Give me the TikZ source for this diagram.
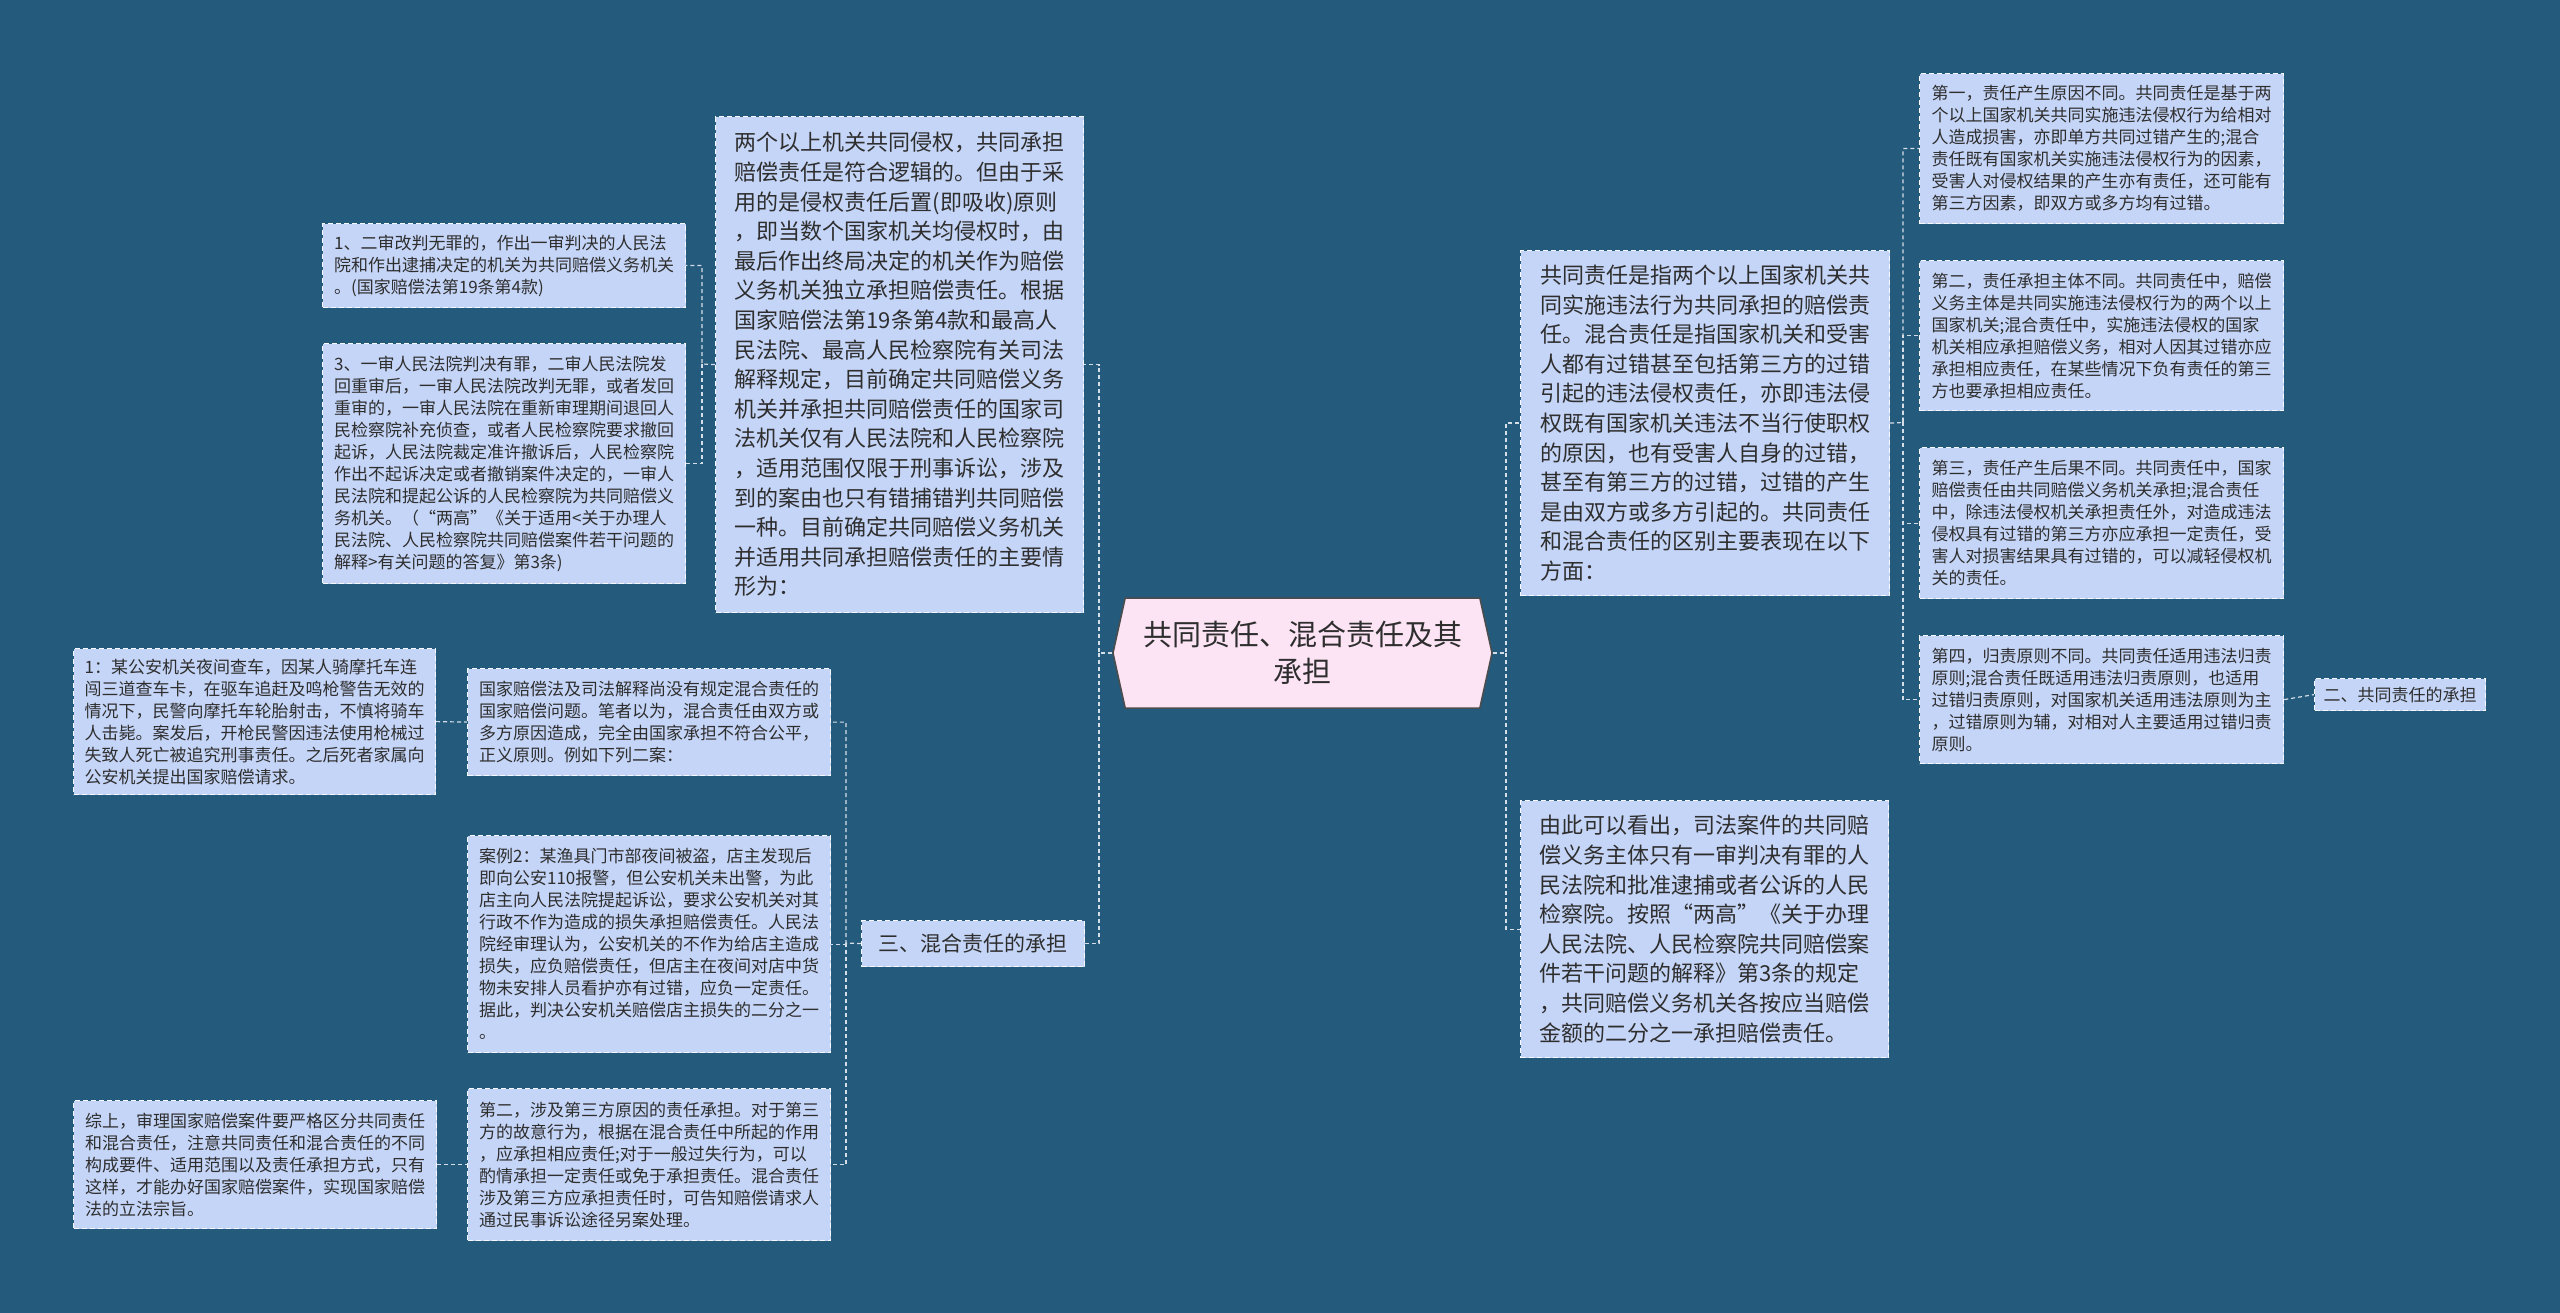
\documentclass[tikz,border=0pt]{standalone}
\usepackage{fontspec}
\setmainfont{Noto Sans CJK SC}
\usetikzlibrary{shapes.symbols}
\definecolor{bgblue}{HTML}{245A7C}
\definecolor{boxfill}{HTML}{C5D5F7}
\definecolor{rootfill}{HTML}{FCE4F5}
\definecolor{inktxt}{HTML}{2E2E2E}
\definecolor{linkgray}{HTML}{D5DDE6}
\newcommand{\smalltxt}{\fontsize{17pt}{22pt}\selectfont}
\newcommand{\bigtxt}{\fontsize{22pt}{29.6pt}\selectfont}
\newcommand{\roottxt}{\fontsize{29pt}{37pt}\selectfont}
\tikzset{
  every picture/.style={line width=1.2pt},
  leaf/.style={draw=white!85!boxfill, dash pattern=on 5pt off 3pt, fill=boxfill,
    text=inktxt, align=left, anchor=north west, inner sep=2pt, font=\smalltxt},
  bigleaf/.style={leaf, font=\bigtxt},
  topic/.style={leaf, align=center},
  rootbox/.style={shape=signal, signal to=west and east, signal pointer angle=155,
    draw=black!70, solid, line width=1.5pt, fill=rootfill, text=inktxt,
    align=center, font=\roottxt, minimum width=379pt, minimum height=110pt},
  link/.style={draw=linkgray, dash pattern=on 4pt off 3pt, line width=1.2pt},
}

\begin{document}
\begin{tikzpicture}[x=1pt,y=-1pt]
    % 背景
    \fill[bgblue] (0,0) rectangle (2560,1313);
    \useasboundingbox (0,0) rectangle (2560,1313);

    % 中心主题
    \node[rootbox] (root) at (1302.5,653) {共同责任、混合责任及其\\承担};

    % 左上：共同赔偿义务机关
    \node[bigleaf, minimum width=368pt, minimum height=496pt] (joint) at (715,116)
      {两个以上机关共同侵权，共同承担\\
       赔偿责任是符合逻辑的。但由于采\\
       用的是侵权责任后置(即吸收)原则\\
       ，即当数个国家机关均侵权时，由\\
       最后作出终局决定的机关作为赔偿\\
       义务机关独立承担赔偿责任。根据\\
       国家赔偿法第19条第4款和最高人\\
       民法院、最高人民检察院有关司法\\
       解释规定，目前确定共同赔偿义务\\
       机关并承担共同赔偿责任的国家司\\
       法机关仅有人民法院和人民检察院\\
       ，适用范围仅限于刑事诉讼，涉及\\
       到的案由也只有错捕错判共同赔偿\\
       一种。目前确定共同赔偿义务机关\\
       并适用共同承担赔偿责任的主要情\\
       形为：};
    \node[leaf, minimum width=363pt, minimum height=84pt] (art1) at (322,223)
      {1、二审改判无罪的，作出一审判决的人民法\\
       院和作出逮捕决定的机关为共同赔偿义务机关\\
       。(国家赔偿法第19条第4款)};
    \node[leaf, minimum width=363pt, minimum height=240pt] (art3) at (322,343)
      {3、一审人民法院判决有罪，二审人民法院发\\
       回重审后，一审人民法院改判无罪，或者发回\\
       重审的，一审人民法院在重新审理期间退回人\\
       民检察院补充侦查，或者人民检察院要求撤回\\
       起诉，人民法院裁定准许撤诉后，人民检察院\\
       作出不起诉决定或者撤销案件决定的，一审人\\
       民法院和提起公诉的人民检察院为共同赔偿义\\
       务机关。（“两高”《关于适用<关于办理人\\
       民法院、人民检察院共同赔偿案件若干问题的\\
       解释>有关问题的答复》第3条)};

    % 左下：混合责任
    \node[topic, font=\fontsize{21pt}{26pt}\selectfont, minimum width=223pt, minimum height=46pt] (mixhead) at (861,920)
      {三、混合责任的承担};
    \node[leaf, minimum width=363pt, minimum height=107pt] (lawgap) at (467,668)
      {国家赔偿法及司法解释尚没有规定混合责任的\\
       国家赔偿问题。笔者以为，混合责任由双方或\\
       多方原因造成，完全由国家承担不符合公平，\\
       正义原则。例如下列二案：};
    \node[leaf, minimum width=362pt, minimum height=146pt] (case1) at (73,648)
      {1：某公安机关夜间查车，因某人骑摩托车连\\
       闯三道查车卡，在驱车追赶及鸣枪警告无效的\\
       情况下，民警向摩托车轮胎射击，不慎将骑车\\
       人击毙。案发后，开枪民警因违法使用枪械过\\
       失致人死亡被追究刑事责任。之后死者家属向\\
       公安机关提出国家赔偿请求。};
    \node[leaf, minimum width=363pt, minimum height=217pt] (case2) at (467,835)
      {案例2：某渔具门市部夜间被盗，店主发现后\\
       即向公安110报警，但公安机关未出警，为此\\
       店主向人民法院提起诉讼，要求公安机关对其\\
       行政不作为造成的损失承担赔偿责任。人民法\\
       院经审理认为，公安机关的不作为给店主造成\\
       损失，应负赔偿责任，但店主在夜间对店中货\\
       物未安排人员看护亦有过错，应负一定责任。\\
       据此，判决公安机关赔偿店主损失的二分之一\\
       。};
    \node[leaf, minimum width=363pt, minimum height=152pt] (third) at (467,1088)
      {第二，涉及第三方原因的责任承担。对于第三\\
       方的故意行为，根据在混合责任中所起的作用\\
       ，应承担相应责任;对于一般过失行为，可以\\
       酌情承担一定责任或免于承担责任。混合责任\\
       涉及第三方应承担责任时，可告知赔偿请求人\\
       通过民事诉讼途径另案处理。};
    \node[leaf, minimum width=363pt, minimum height=128pt] (summary) at (73,1100)
      {综上，审理国家赔偿案件要严格区分共同责任\\
       和混合责任，注意共同责任和混合责任的不同\\
       构成要件、适用范围以及责任承担方式，只有\\
       这样，才能办好国家赔偿案件，实现国家赔偿\\
       法的立法宗旨。};

    % 右侧
    \node[bigleaf, minimum width=369pt, minimum height=345pt] (define) at (1520,250)
      {共同责任是指两个以上国家机关共\\
       同实施违法行为共同承担的赔偿责\\
       任。混合责任是指国家机关和受害\\
       人都有过错甚至包括第三方的过错\\
       引起的违法侵权责任，亦即违法侵\\
       权既有国家机关违法不当行使职权\\
       的原因，也有受害人自身的过错，\\
       甚至有第三方的过错，过错的产生\\
       是由双方或多方引起的。共同责任\\
       和混合责任的区别主要表现在以下\\
       方面：};
    \node[bigleaf, minimum width=368pt, minimum height=257pt] (conclude) at (1520,800)
      {由此可以看出，司法案件的共同赔\\
       偿义务主体只有一审判决有罪的人\\
       民法院和批准逮捕或者公诉的人民\\
       检察院。按照“两高”《关于办理\\
       人民法院、人民检察院共同赔偿案\\
       件若干问题的解释》第3条的规定\\
       ，共同赔偿义务机关各按应当赔偿\\
       金额的二分之一承担赔偿责任。};
    \node[leaf, minimum width=364pt, minimum height=150pt] (diff1) at (1919,73)
      {第一，责任产生原因不同。共同责任是基于两\\
       个以上国家机关共同实施违法侵权行为给相对\\
       人造成损害，亦即单方共同过错产生的;混合\\
       责任既有国家机关实施违法侵权行为的因素，\\
       受害人对侵权结果的产生亦有责任，还可能有\\
       第三方因素，即双方或多方均有过错。};
    \node[leaf, minimum width=364pt, minimum height=150pt] (diff2) at (1919,260)
      {第二，责任承担主体不同。共同责任中，赔偿\\
       义务主体是共同实施违法侵权行为的两个以上\\
       国家机关;混合责任中，实施违法侵权的国家\\
       机关相应承担赔偿义务，相对人因其过错亦应\\
       承担相应责任，在某些情况下负有责任的第三\\
       方也要承担相应责任。};
    \node[leaf, minimum width=364pt, minimum height=151pt] (diff3) at (1919,447)
      {第三，责任产生后果不同。共同责任中，国家\\
       赔偿责任由共同赔偿义务机关承担;混合责任\\
       中，除违法侵权机关承担责任外，对造成违法\\
       侵权具有过错的第三方亦应承担一定责任，受\\
       害人对损害结果具有过错的，可以减轻侵权机\\
       关的责任。};
    \node[leaf, minimum width=364pt, minimum height=128pt] (diff4) at (1919,635)
      {第四，归责原则不同。共同责任适用违法归责\\
       原则;混合责任既适用违法归责原则，也适用\\
       过错归责原则，对国家机关适用违法原则为主\\
       ，过错原则为辅，对相对人主要适用过错归责\\
       原则。};
    \node[topic, minimum width=171pt, minimum height=32pt] (jointhead) at (2314,678)
      {二、共同责任的承担};

    % 连线
    \coordinate (rl) at (1099,653);
    \coordinate (rr) at (1506,653);
    \coordinate (jl) at (702,364);
    \coordinate (ml) at (846,943);
    \coordinate (dr) at (1903,422.5);
    \draw[link] (root.west) -- (rl) |- (joint.east);
    \draw[link] (rl) |- (mixhead.east);
    \draw[link] (joint.west) -- (jl) |- (art1.east);
    \draw[link] (jl) |- (art3.east);
    \draw[link] (mixhead.west) -- (ml) |- (lawgap.east);
    \draw[link] (ml) |- (case2.east);
    \draw[link] (ml) |- (third.east);
    \draw[link] (case1.east) -- (lawgap.west);
    \draw[link] (summary.east) -- (third.west);
    \draw[link] (root.east) -- (rr) |- (define.west);
    \draw[link] (rr) |- (conclude.west);
    \draw[link] (define.east) -- (dr) |- (diff1.west);
    \foreach \d in {diff2,diff3,diff4}
      \draw[link] (dr) |- (\d.west);
    \draw[link] (diff4.east) -- (jointhead.west);
\end{tikzpicture}
\end{document}
